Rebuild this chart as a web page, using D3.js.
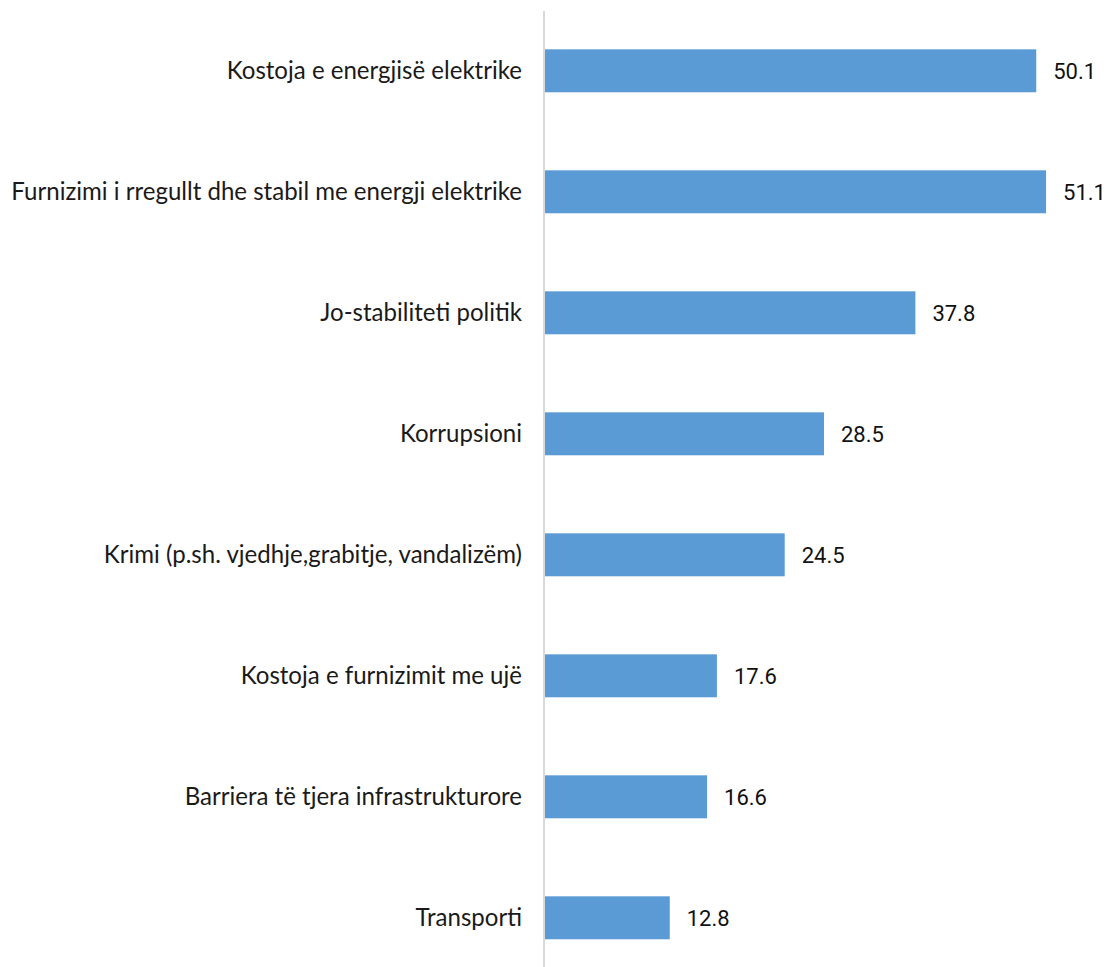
<!DOCTYPE html>
<html><head><meta charset="utf-8">
<script src="https://cdn.jsdelivr.net/npm/d3@7"></script>
<style>html,body{margin:0;padding:0;background:#fff;}svg{display:block;}</style>
</head><body>
<script>
const categories = [
  "Kostoja e energjisë elektrike",
  "Furnizimi i rregullt dhe stabil me energji elektrike",
  "Jo-stabiliteti politik",
  "Korrupsioni",
  "Krimi (p.sh. vjedhje,grabitje, vandalizëm)",
  "Kostoja e furnizimit me ujë",
  "Barriera të tjera infrastrukturore",
  "Transporti"
];
const values = [50.1, 51.1, 37.8, 28.5, 24.5, 17.6, 16.6, 12.8];
const valueLabels = ["50.1", "51.1", "37.8", "28.5", "24.5", "17.6", "16.6", "12.8"];

const W = 1109, H = 967;
const svg = d3.select("body").append("svg").attr("width", W).attr("height", H);

const x = d3.scaleLinear().domain([0, 60]).range([544, 544 + 60 * 9.825]);
const y = d3.scaleBand().domain(categories).range([10.3, 978.3])
  .paddingInner(0.645).paddingOuter(0.3225);

svg.append("g").selectAll("rect").data(categories).join("rect")
  .attr("x", x(0))
  .attr("y", d => y(d))
  .attr("width", (d, i) => x(values[i]) - x(0))
  .attr("height", y.bandwidth())
  .attr("fill", "#5B9BD5");

// category axis
const axis = d3.axisLeft(y).tickSize(0).tickPadding(22);
const gAx = svg.append("g").attr("transform", `translate(${x(0)},0)`).call(axis);
gAx.select(".domain").attr("stroke", "#d9d9d9").attr("stroke-width", 2)
  .attr("d", `M0,11V${H}`);
gAx.selectAll("text")
  .attr("font-family", "Lato, 'Open Sans', sans-serif")
  .attr("font-size", 19)
  .attr("fill", "#1a1a1a");

// fit longest label width to ~511px
let maxW = 0;
gAx.selectAll("text").each(function(){ maxW = Math.max(maxW, this.getComputedTextLength()); });
const fs = 19 * 511 / maxW;
gAx.selectAll("text").attr("font-size", fs.toFixed(2));

svg.append("g").selectAll("text").data(categories).join("text")
  .attr("x", (d, i) => x(values[i]) + 17)
  .attr("y", d => y(d) + y.bandwidth() / 2)
  .attr("dy", "0.36em")
  .attr("font-family", "Roboto, sans-serif")
  .attr("font-size", 22)
  .attr("fill", "#111")
  .text((d, i) => valueLabels[i]);
</script>
</body></html>
